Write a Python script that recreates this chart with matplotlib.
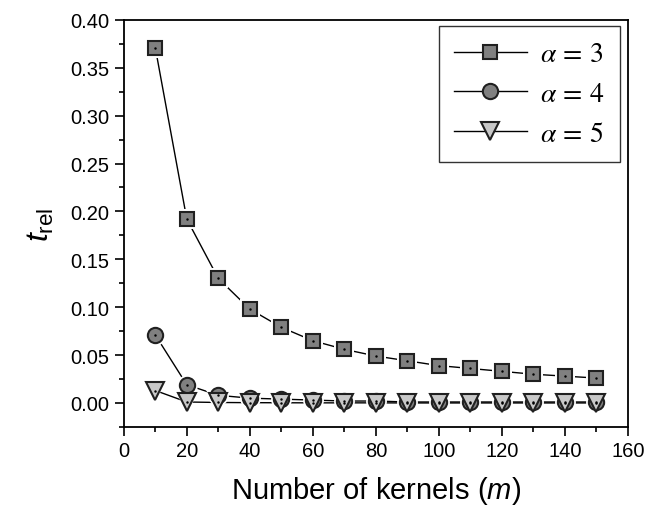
import matplotlib.pyplot as plt
from matplotlib.ticker import MultipleLocator
from matplotlib.font_manager import FontProperties

plt.rcParams['font.family'] = ['Liberation Sans', 'DejaVu Sans']
plt.rcParams['mathtext.fontset'] = 'custom'
plt.rcParams['mathtext.rm'] = 'Liberation Sans'
plt.rcParams['mathtext.it'] = 'Liberation Sans:italic'

m = [10, 20, 30, 40, 50, 60, 70, 80, 90, 100, 110, 120, 130, 140, 150]
t_a3 = [0.371, 0.192, 0.130, 0.098, 0.079, 0.065, 0.056, 0.049, 0.044,
        0.039, 0.036, 0.033, 0.030, 0.028, 0.026]
t_a4 = [0.071, 0.019, 0.008, 0.005, 0.004, 0.003, 0.002, 0.002, 0.001,
        0.001, 0.001, 0.001, 0.001, 0.001, 0.001]
t_a5 = [0.013, 0.001, 0.0005, 0.0003, 0.0002, 0.0001, 0.0001, 0.0001, 0.0,
        0.0, 0.0, 0.0, 0.0, 0.0, 0.0]
labels = [r'$\alpha\,=\,3$', r'$\alpha\,=\,4$', r'$\alpha\,=\,5$']

fig = plt.figure(figsize=(6.48, 5.10), dpi=100)
ax = fig.add_axes([0.191, 0.161, 0.778, 0.798])

series = [(t_a3, 's', 10, '#808080'), (t_a4, 'o', 11, '#808080'),
          (t_a5, 'v', 13, '#c8c8c8')]

# connecting lines first
for ys, mk, ms, fc in series:
    ax.plot(m, ys, '-', color='black', lw=1, zorder=2)
# white halo so the lines stop short of the markers (Origin look)
for ys, mk, ms, fc in series:
    ax.plot(m, ys, mk, ms=ms + 4, mfc='white', mec='white', mew=0, zorder=3)
for (ys, mk, ms, fc), lab in zip(series, labels):
    ax.plot(m, ys, mk, ms=ms, mfc=fc, mec='#202020', mew=1.5, zorder=4)
    ax.plot(m, ys, 'k.', ms=1.5, zorder=5)
    # legend proxy
    ax.plot([], [], '-' + mk, color='black', lw=1, ms=ms, mfc=fc,
            mec='#202020', mew=1.5, label=lab)

ax.set_xlim(0, 160)
ax.set_ylim(-0.025, 0.40)
ax.xaxis.set_major_locator(MultipleLocator(20))
ax.xaxis.set_minor_locator(MultipleLocator(10))
ax.yaxis.set_major_locator(MultipleLocator(0.05))
ax.yaxis.set_minor_locator(MultipleLocator(0.025))
ax.yaxis.set_major_formatter(plt.FormatStrFormatter('%.2f'))
ax.tick_params(which='major', direction='out', length=6.5, width=1.2,
               labelsize=14.5, pad=4)
ax.tick_params(which='minor', direction='out', length=3.5, width=1.2)
for s in ax.spines.values():
    s.set_linewidth(1.3)

ax.set_xlabel('Number of kernels ($\\mathit{m}$)', fontsize=21, labelpad=10)
ax.set_ylabel('$\\mathit{t}_{\\mathrm{rel}}$', fontsize=23, labelpad=10)

leg_font = FontProperties(size=20, math_fontfamily='stix')
leg = ax.legend(loc='upper right', prop=leg_font, frameon=True, fancybox=False,
                edgecolor='black', handlelength=2.6, borderpad=0.55,
                labelspacing=0.5, handletextpad=0.5, borderaxespad=0,
                bbox_to_anchor=(0.984, 0.985))
leg.get_frame().set_linewidth(1.0)

fig.savefig('out.png', dpi=100)
